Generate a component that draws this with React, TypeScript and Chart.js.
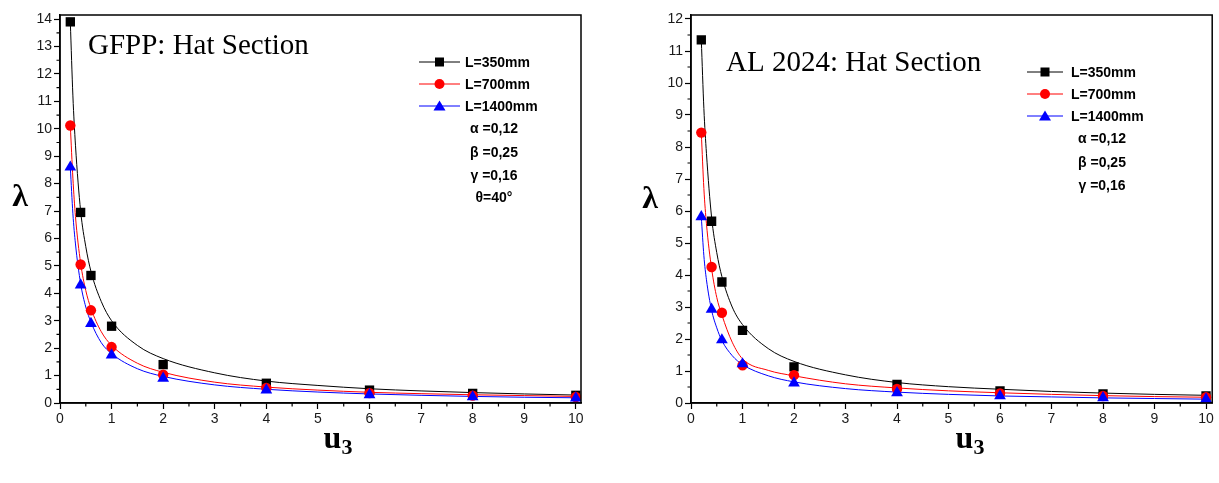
import React, { useEffect, useRef } from 'react';
import { Chart, registerables } from 'chart.js';

Chart.register(...registerables);

// ---------- data ----------
const xPoints = [0.2, 0.4, 0.6, 1, 2, 4, 6, 8, 10];
const curveX = [0.2, 0.25, 0.3, 0.4, 0.5, 0.6, 0.8, 1, 1.5, 2, 3, 4, 5, 6, 7, 8, 9, 10];

const seriesLabels = ['L=350mm', 'L=700mm', 'L=1400mm'];
const seriesColors = ['#000000', '#ff0000', '#0000ff'];
const seriesMarkers = ['rect', 'circle', 'triangle'];

// GFPP: Hat Section
const gfppL350 = [13.9, 6.95, 4.65, 2.8, 1.4, 0.72, 0.47, 0.35, 0.28];
const gfppL700 = [10.12, 5.05, 3.38, 2.04, 1.03, 0.55, 0.36, 0.27, 0.22];
const gfppL1400 = [8.6, 4.3, 2.9, 1.75, 0.9, 0.47, 0.3, 0.22, 0.18];
const gfppFit350 = [13.9, 11.2, 9.4, 7.0, 5.7, 4.8, 3.7, 3.0, 2.1, 1.62, 1.1, 0.8, 0.64, 0.52, 0.44, 0.38, 0.33, 0.29];
const gfppFit700 = [10.12, 8.2, 6.8, 5.1, 4.1, 3.45, 2.6, 2.1, 1.45, 1.12, 0.76, 0.58, 0.47, 0.39, 0.34, 0.3, 0.27, 0.24];
const gfppFit1400 = [8.6, 6.9, 5.8, 4.35, 3.5, 2.95, 2.2, 1.8, 1.25, 0.97, 0.66, 0.5, 0.4, 0.33, 0.28, 0.24, 0.21, 0.19];
const gfppParams = ['\u03b1 =0,12', '\u03b2 =0,25', '\u03b3 =0,16', '\u03b8=40\u00b0'];

// AL 2024: Hat Section
const alL350 = [11.35, 5.68, 3.78, 2.27, 1.13, 0.58, 0.38, 0.28, 0.22];
const alL700 = [8.45, 4.25, 2.82, 1.18, 0.87, 0.44, 0.3, 0.22, 0.18];
const alL1400 = [5.82, 2.93, 1.97, 1.22, 0.62, 0.32, 0.22, 0.16, 0.12];
const alFit350 = [11.35, 9.2, 7.8, 5.8, 4.7, 3.95, 3.0, 2.45, 1.7, 1.3, 0.88, 0.64, 0.51, 0.43, 0.36, 0.31, 0.27, 0.24];
const alFit700 = [8.45, 6.7, 5.6, 4.2, 3.3, 2.75, 1.9, 1.38, 1.02, 0.85, 0.6, 0.47, 0.38, 0.32, 0.27, 0.23, 0.2, 0.18];
const alFit1400 = [5.82, 4.6, 3.85, 2.9, 2.35, 1.95, 1.48, 1.2, 0.85, 0.66, 0.45, 0.34, 0.27, 0.22, 0.19, 0.16, 0.14, 0.12];
const alParams = ['\u03b1 =0,12', '\u03b2 =0,25', '\u03b3 =0,16'];

type Panel = {
  title: string;
  left: number;
  width: number;
  area: { left: number; right: number; top: number; bottom: number };
  yMax: number;
  xMax: number;
  markers: number[][];
  fits: number[][];
  params: string[];
  titlePos: { x: number; y: number };
  legend: { x1: number; x2: number; tx: number; ys: number[]; px: number; pys: number[] };
  lambdaPos: { x: number; y: number };
  uPos: { x: number; y: number };
};

const H = 483;

const panels: Panel[] = [
  {
    title: 'GFPP: Hat Section',
    left: 0,
    width: 610,
    area: { left: 60, right: 581, top: 15, bottom: 403 },
    yMax: 14.15,
    xMax: 10.1,
    markers: [gfppL350, gfppL700, gfppL1400],
    fits: [gfppFit350, gfppFit700, gfppFit1400],
    params: gfppParams,
    titlePos: { x: 88, y: 54 },
    legend: { x1: 419, x2: 460, tx: 465, ys: [62, 84, 106], px: 494, pys: [129, 153, 176, 198] },
    lambdaPos: { x: 20, y: 198 },
    uPos: { x: 338, y: 448 },
  },
  {
    title: 'AL 2024: Hat Section',
    left: 610,
    width: 609,
    area: { left: 81, right: 603, top: 15, bottom: 403 },
    yMax: 12.125,
    xMax: 10.12,
    markers: [alL350, alL700, alL1400],
    fits: [alFit350, alFit700, alFit1400],
    params: alParams,
    titlePos: { x: 116, y: 71 },
    legend: { x1: 417, x2: 453, tx: 461, ys: [72, 94, 116], px: 492, pys: [139, 163, 186] },
    lambdaPos: { x: 40, y: 200 },
    uPos: { x: 360, y: 448 },
  },
];

function drawMarker(ctx: CanvasRenderingContext2D, style: string, x: number, y: number, color: string) {
  ctx.save();
  ctx.fillStyle = color;
  ctx.beginPath();
  if (style === 'rect') {
    ctx.rect(x - 4.5, y - 4.5, 9, 9);
  } else if (style === 'circle') {
    ctx.arc(x, y, 5, 0, Math.PI * 2);
  } else {
    ctx.moveTo(x, y - 5.5);
    ctx.lineTo(x + 6, y + 4.5);
    ctx.lineTo(x - 6, y + 4.5);
    ctx.closePath();
  }
  ctx.fill();
  ctx.restore();
}

function makeOverlay(p: Panel) {
  return {
    id: 'overlay',
    afterDraw(chart: any) {
      const ctx: CanvasRenderingContext2D = chart.ctx;
      const { left, right, top, bottom } = chart.chartArea;
      const xs = chart.scales.x;
      const ys = chart.scales.y;
      ctx.save();
      // frame
      ctx.strokeStyle = '#000';
      ctx.lineWidth = 1.5;
      ctx.strokeRect(left, top, right - left, bottom - top);
      // minor ticks
      ctx.lineWidth = 1.2;
      ctx.beginPath();
      for (let v = 0.5; v < p.xMax; v += 1) {
        const px = xs.getPixelForValue(v);
        ctx.moveTo(px, bottom);
        ctx.lineTo(px, bottom + 3.5);
      }
      for (let v = 0.5; v < p.yMax; v += 1) {
        const py = ys.getPixelForValue(v);
        ctx.moveTo(left, py);
        ctx.lineTo(left - 3.5, py);
      }
      ctx.stroke();

      // in-plot title
      ctx.fillStyle = '#000';
      ctx.font = '29px "Liberation Serif", "Times New Roman", serif';
      ctx.textAlign = 'left';
      ctx.textBaseline = 'alphabetic';
      ctx.fillText(p.title, p.titlePos.x, p.titlePos.y);

      // legend
      const L = p.legend;
      for (let i = 0; i < 3; i++) {
        const yy = L.ys[i];
        ctx.strokeStyle = seriesColors[i];
        ctx.lineWidth = 1;
        ctx.beginPath();
        ctx.moveTo(L.x1, yy);
        ctx.lineTo(L.x2, yy);
        ctx.stroke();
        drawMarker(ctx, seriesMarkers[i], (L.x1 + L.x2) / 2, yy, seriesColors[i]);
        ctx.fillStyle = '#000';
        ctx.font = 'bold 14px "Liberation Sans", Arial, sans-serif';
        ctx.textAlign = 'left';
        ctx.textBaseline = 'middle';
        ctx.fillText(seriesLabels[i], L.tx, yy + 1);
      }
      ctx.textAlign = 'center';
      ctx.font = 'bold 14px "Liberation Sans", Arial, sans-serif';
      p.params.forEach((t, i) => {
        ctx.fillText(t, L.px, L.pys[i]);
      });

      // axis titles
      ctx.font = 'bold 32px "Liberation Serif", "Times New Roman", serif';
      ctx.textAlign = 'center';
      ctx.textBaseline = 'middle';
      ctx.fillText('\u03bb', p.lambdaPos.x, p.lambdaPos.y);

      ctx.textBaseline = 'alphabetic';
      ctx.font = 'bold 32px "Liberation Serif", "Times New Roman", serif';
      const uW = ctx.measureText('u').width;
      ctx.font = 'bold 22px "Liberation Serif", "Times New Roman", serif';
      const sW = ctx.measureText('3').width;
      const startX = p.uPos.x - (uW + sW) / 2;
      ctx.textAlign = 'left';
      ctx.font = 'bold 32px "Liberation Serif", "Times New Roman", serif';
      ctx.fillText('u', startX, p.uPos.y);
      ctx.font = 'bold 22px "Liberation Serif", "Times New Roman", serif';
      ctx.fillText('3', startX + uW, p.uPos.y + 6);
      ctx.restore();
    },
  };
}

function ChartPanel({ p }: { p: Panel }) {
  const ref = useRef<HTMLCanvasElement | null>(null);
  useEffect(() => {
    if (!ref.current) return;
    const datasets: any[] = [];
    // markers (blue on top)
    for (let i = 0; i < 3; i++) {
      datasets.push({
        label: seriesLabels[i],
        data: xPoints.map((x, k) => ({ x, y: p.markers[i][k] })),
        showLine: false,
        pointStyle: seriesMarkers[i],
        pointRadius: seriesMarkers[i] === 'rect' ? 6.6 : seriesMarkers[i] === 'circle' ? 5.2 : 6.8,
        backgroundColor: seriesColors[i],
        borderColor: seriesColors[i],
        borderWidth: 0,
        order: 2 - i,
      });
    }
    for (let i = 0; i < 3; i++) {
      datasets.push({
        label: seriesLabels[i] + ' fit',
        data: curveX.map((x, k) => ({ x, y: p.fits[i][k] })),
        showLine: true,
        pointRadius: 0,
        borderColor: seriesColors[i],
        borderWidth: 1,
        cubicInterpolationMode: 'monotone',
        fill: false,
        order: 10 - i,
      });
    }
    const tickFont = { family: '"Liberation Sans", Arial, sans-serif', size: 14 };
    const chart = new Chart(ref.current, {
      type: 'scatter',
      data: { datasets },
      plugins: [makeOverlay(p)],
      options: {
        responsive: false,
        animation: false,
        events: [],
        layout: {
          padding: { left: 0, right: p.width - p.area.right, top: p.area.top, bottom: 0 },
        },
        plugins: { legend: { display: false }, tooltip: { enabled: false }, title: { display: false } },
        scales: {
          x: {
            type: 'linear',
            min: 0,
            max: p.xMax,
            afterFit: (s: any) => {
              s.height = H - p.area.bottom;
            },
            ticks: {
              stepSize: 1,
              includeBounds: false,
              color: '#1a1a1a',
              font: tickFont,
              padding: 2,
              maxRotation: 0,
            },
            grid: { display: true, drawOnChartArea: false, drawTicks: true, tickLength: 6, tickColor: '#000', tickWidth: 1.2 },
            border: { display: true, color: '#000', width: 1.5 },
          },
          y: {
            type: 'linear',
            min: 0,
            max: p.yMax,
            afterFit: (s: any) => {
              s.width = p.area.left;
            },
            ticks: {
              stepSize: 1,
              includeBounds: false,
              color: '#1a1a1a',
              font: tickFont,
              padding: 2,
            },
            grid: { display: true, drawOnChartArea: false, drawTicks: true, tickLength: 6, tickColor: '#000', tickWidth: 1.2 },
            border: { display: true, color: '#000', width: 1.5 },
          },
        },
      } as any,
    });
    return () => chart.destroy();
  }, [p]);
  return (
    <canvas
      ref={ref}
      width={p.width}
      height={H}
      style={{ position: 'absolute', left: p.left, top: 0, width: p.width, height: H }}
    />
  );
}

export default function App() {
  return (
    <div style={{ position: 'absolute', left: 0, top: 0, width: 1219, height: H, background: '#fff', overflow: 'hidden' }}>
      {panels.map((p) => (
        <ChartPanel key={p.title} p={p} />
      ))}
    </div>
  );
}
